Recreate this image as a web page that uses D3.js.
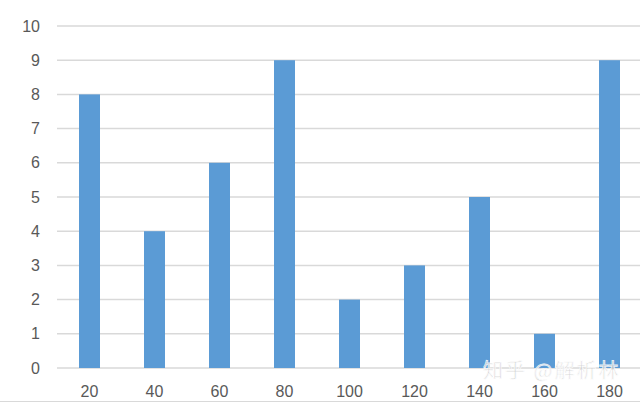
<!DOCTYPE html>
<html><head><meta charset="utf-8">
<script src="https://cdn.jsdelivr.net/npm/d3@7"></script>
<style>body{margin:0;background:#fff;}svg{display:block;}</style>
</head><body>
<script>
const categories = ["20","40","60","80","100","120","140","160","180"];
const values = [8,4,6,9,2,3,5,1,9];
const yTicks = [0,1,2,3,4,5,6,7,8,9,10];

const W = 640, H = 403;
const svg = d3.select("body").append("svg").attr("width", W).attr("height", H);
const x = d3.scaleBand().domain(categories).range([57, 642]).paddingInner(0.677).paddingOuter(0.3385);
const y = d3.scaleLinear().domain([0, 10]).range([368, 26]);

const font = "'Liberation Sans', Arial, sans-serif";

// grid
svg.append("g").selectAll("line").data(yTicks).join("line")
  .attr("x1", 57).attr("x2", W).attr("y1", d => y(d)).attr("y2", d => y(d))
  .attr("stroke", "#d9d9d9").attr("stroke-width", 1.5);

// y axis labels
const yAxis = d3.axisLeft(y).tickValues(yTicks).tickSize(0).tickPadding(0);
const gy = svg.append("g").attr("transform", "translate(40,0)").call(yAxis);
gy.select(".domain").remove();
gy.selectAll("text").attr("fill", "#595959").style("font-family", font).style("font-size", "16px");

// bars
svg.append("g").selectAll("rect").data(values).join("rect")
  .attr("x", (d, i) => x(categories[i]))
  .attr("width", x.bandwidth())
  .attr("y", d => y(d))
  .attr("height", d => y(0) - y(d))
  .attr("fill", "#5b9bd5");

// x axis labels
const xAxis = d3.axisBottom(x).tickSize(0).tickPadding(0);
const gx = svg.append("g").attr("transform", "translate(0,386)").call(xAxis);
gx.select(".domain").remove();
gx.selectAll("text").attr("fill", "#595959").style("font-family", font).style("font-size", "16px");

// bottom border
svg.append("line").attr("x1", 0).attr("x2", W).attr("y1", 401.5).attr("y2", 401.5)
  .attr("stroke", "#d9d9d9").attr("stroke-width", 1);

// watermark
svg.append("text").attr("x", 483).attr("y", 378)
  .text("知乎 @解析林")
  .attr("fill", "#c8c8c8").attr("stroke", "#ffffff").attr("stroke-width", 0.8)
  .attr("opacity", 0.85)
  .style("letter-spacing", "2px")
  .style("font-family", "'Noto Sans CJK SC', sans-serif").style("font-size", "20px");
</script>
</body></html>
